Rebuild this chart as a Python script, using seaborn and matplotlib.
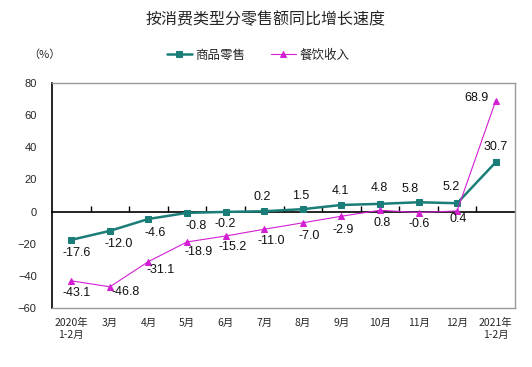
import matplotlib.pyplot as plt
import pandas
import seaborn as sns

# data
months = ['2020年\n1-2月', '3月', '4月', '5月', '6月', '7月', '8月', '9月',
          '10月', '11月', '12月', '2021年\n1-2月']
retail = [-17.6, -12.0, -4.6, -0.8, -0.2, 0.2, 1.5, 4.1, 4.8, 5.8, 5.2, 30.7]
catering = [-43.1, -46.8, -31.1, -18.9, -15.2, -11.0, -7.0, -2.9, 0.8, -0.6, 0.4, 68.9]

# label offsets in pixels (dx, dy)
retail_off = [(5, -13), (9, -13), (7, -14), (9, -13), (0, -12), (-2, 14),
              (-2, 13), (-1, 14), (-1, 16), (-8, 13), (-6, 16), (0, 15)]
catering_off = [(5, -12), (16, -5), (12, -8), (12, -10), (7, -11), (7, -12),
                (6, -13), (2, -14), (2, -13), (1, -11), (1, -8), (-19, 3)]

teal = '#1a7d78'
magenta = '#d21fd2'

sns.set_style('white')
plt.rcParams['font.family'] = ['Liberation Sans', 'Noto Sans CJK SC', 'DejaVu Sans']

df = pandas.DataFrame({'pos': range(len(months)), '商品零售': retail, '餐饮收入': catering})

fig = plt.figure(figsize=(5.32, 3.67), dpi=100)
ax = fig.add_axes([52 / 532, 1 - 308 / 367, 463 / 532, 225 / 367])

sns.lineplot(data=df, x='pos', y='商品零售', ax=ax, color=teal, linewidth=1.8,
             marker='s', markersize=5, markeredgecolor=teal, label='商品零售')
sns.lineplot(data=df, x='pos', y='餐饮收入', ax=ax, color=magenta, linewidth=0.8,
             marker='^', markersize=5.5, markeredgecolor=magenta, label='餐饮收入')

for i, v in enumerate(retail):
    ax.annotate(f'{v:.1f}', (i, v), xytext=retail_off[i], textcoords='offset pixels',
                ha='center', va='center', fontsize=9, color='#111111')
for i, v in enumerate(catering):
    ax.annotate(f'{v:.1f}', (i, v), xytext=catering_off[i], textcoords='offset pixels',
                ha='center', va='center', fontsize=9, color='#111111')

ax.set_xlim(-0.5, len(months) - 0.5)
ax.set_ylim(-60, 80)
ax.set_yticks(range(-60, 81, 20))
ax.set_xticks(range(len(months)))
ax.set_xticklabels(months, fontsize=7.5, family=['Noto Sans CJK SC'], linespacing=1.3)
ax.tick_params(axis='x', length=0, pad=7)
ax.tick_params(axis='y', length=3, width=1, color='black', direction='out', labelsize=8, pad=8)
ax.set_xlabel('')
ax.set_ylabel('')

for s in ['top', 'right', 'bottom']:
    ax.spines[s].set_color('#999999')
    ax.spines[s].set_linewidth(1)
ax.spines['left'].set_color('black')
ax.spines['left'].set_linewidth(1.2)

# zero axis with category boundary ticks
zero = ax.secondary_xaxis(0, transform=ax.transData)
zero.set_xticks([i + 0.5 for i in range(len(months) - 1)])
zero.set_xticklabels([])
zero.tick_params(direction='in', length=4, width=1, color='black')
zero.spines['bottom'].set_color('black')
zero.spines['bottom'].set_linewidth(1.2)

ax.get_legend().remove()
handles, labels = ax.get_legend_handles_labels()
for h in handles:
    h.set_markersize(4.5)
fig.legend(handles, labels, loc='center', bbox_to_anchor=(0.485, 1 - 55 / 367), ncol=2,
           frameon=False, handlelength=2.0, columnspacing=2.0,
           handletextpad=0.3, prop={'family': ['Noto Sans CJK SC'], 'size': 9})

fig.text(0.5, 1 - 20 / 367, '按消费类型分零售额同比增长速度', ha='center', va='center',
         fontsize=11.5, family=['Noto Sans CJK SC'])
fig.text(44 / 532, 1 - 55 / 367, '（%）', ha='center', va='center', fontsize=8,
         family=['Noto Sans CJK SC'])

fig.savefig('out.png', dpi=100)
